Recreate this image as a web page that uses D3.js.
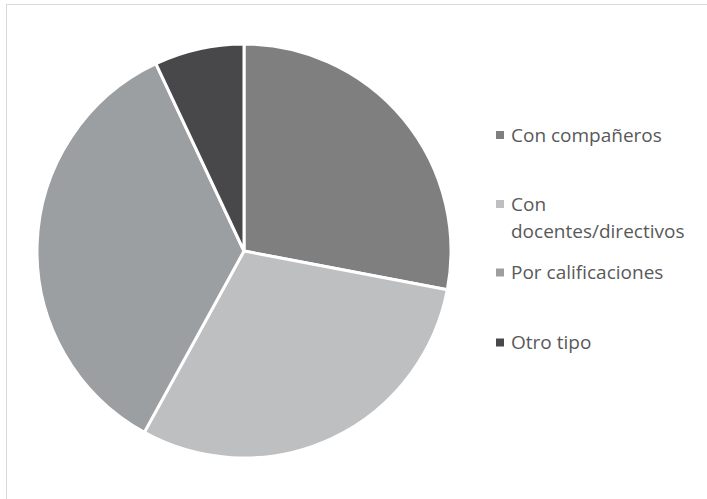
<!DOCTYPE html>
<html>
<head>
<meta charset="utf-8">
<script src="https://cdn.jsdelivr.net/npm/d3@7"></script>
<style>
  html, body { margin: 0; padding: 0; background: #fff; }
  svg { display: block; }
</style>
</head>
<body>
<svg id="chart" width="707" height="499"></svg>
<script>
// slice data, clockwise from 12 o'clock
const categories = ['Con compañeros', 'Con docentes/directivos', 'Por calificaciones', 'Otro tipo']
const values     = [28, 30, 35, 7]
const colors     = ['#7f7f7f', '#bebfc1', '#9c9fa2', '#48484b']
// legend lines (second entry wraps)
const legendLines = [['Con compañeros'], ['Con', 'docentes/directivos'], ['Por calificaciones'], ['Otro tipo']]
const legendY     = [135, 204, 272.5, 342.5]

const svg = d3.select('#chart')

// outer frame
svg.append('rect')
  .attr('x', 6.5).attr('y', 4.5)
  .attr('width', 720).attr('height', 520)
  .attr('fill', 'none')
  .attr('stroke', '#d9d9d9')
  .attr('stroke-width', 1)

const cx = 244, cy = 251, r = 207

const pie = d3.pie().sort(null).value(d => d)
const arc = d3.arc().innerRadius(0).outerRadius(r)

const g = svg.append('g').attr('transform', `translate(${cx},${cy})`)

g.selectAll('path')
  .data(pie(values))
  .enter()
  .append('path')
  .attr('d', arc)
  .attr('fill', (d, i) => colors[i])
  .attr('stroke', '#fff')
  .attr('stroke-width', 3)
  .attr('stroke-linejoin', 'round')

// legend
const lg = svg.append('g')
const font = "'Open Sans', 'Liberation Sans', sans-serif"

categories.forEach((c, i) => {
  const y = legendY[i]
  lg.append('rect')
    .attr('x', 496).attr('y', y - 4)
    .attr('width', 8).attr('height', 8)
    .attr('fill', colors[i])
  legendLines[i].forEach((line, j) => {
    lg.append('text')
      .attr('x', 511)
      .attr('y', y + j * 27.5)
      .attr('dy', '0.36em')
      .attr('fill', '#595959')
      .attr('font-size', '19px')
      .attr('font-family', font)
      .text(line)
  })
})
</script>
</body>
</html>
